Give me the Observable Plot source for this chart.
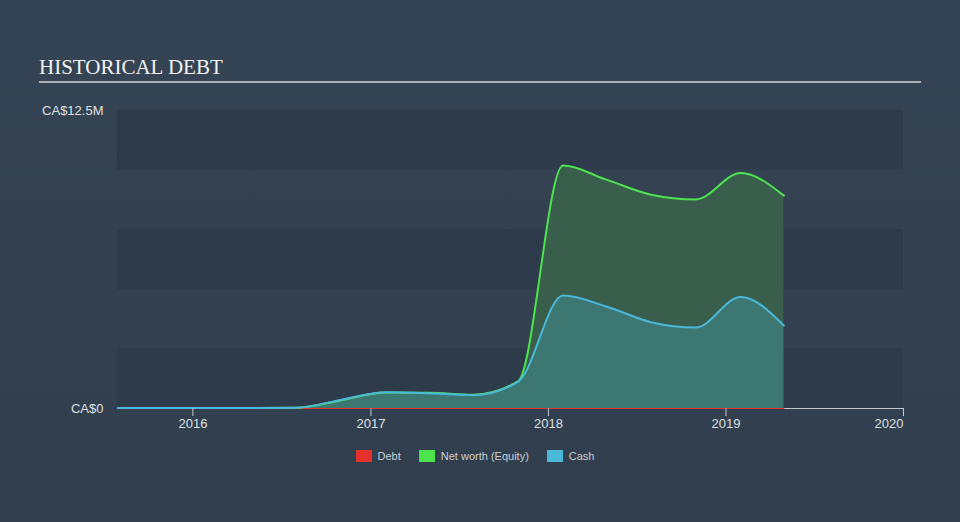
<!DOCTYPE html>
<html>
<head>
<meta charset="utf-8">
<script src="https://cdn.jsdelivr.net/npm/d3@7"></script>
<script src="https://cdn.jsdelivr.net/npm/@observablehq/plot@0.6"></script>
<style>
  html, body { margin: 0; padding: 0; }
  body { width: 960px; height: 522px; overflow: hidden;
         background: linear-gradient(180deg, #354454 0%, #313e4d 100%);
         font-family: "Liberation Sans", Arial, sans-serif; }
  #header { position: relative; height: 90px; }
  #title { position: absolute; left: 39px; top: 57px; font-family: "Liberation Serif", "Times New Roman", serif;
           font-size: 21px; line-height: 21px; color: #f2f2f2; letter-spacing: 0px; }
  #rule { position: absolute; left: 39px; top: 81px; width: 882px; height: 2px; background: #a9b0b8; }
  #legend { display: flex; justify-content: center; align-items: center; gap: 0; margin-top: 10px;
            width: 950px; font-size: 11px; color: #c9ced4; }
  .item { display: flex; align-items: center; margin: 0 9px; }
  .sw { width: 16px; height: 12px; margin-right: 6px; }
  #chart svg { display: block; }
</style>
</head>
<body>
<div id="header"><div id="title">HISTORICAL DEBT</div><div id="rule"></div></div>
<div id="chart"></div>
<div id="legend"></div>
<script>
const dates  = ["2015-07-31","2015-10-31","2016-01-31","2016-04-30","2016-07-31","2016-10-31","2017-01-31","2017-04-30","2017-07-31","2017-10-31","2018-01-31","2018-04-30","2018-07-31","2018-10-31","2019-01-31","2019-04-30"];
const debt   = [0,0,0,0,0,0,0,0,0,0,0,0,0,0,0,0];
const equity = [0.02,0.02,0.02,0.02,0.03,0.34,0.67,0.66,0.58,1.15,10.19,9.60,8.97,8.77,9.88,8.93];
const cash   = [0.02,0.02,0.02,0.02,0.03,0.36,0.68,0.64,0.56,1.13,4.74,4.28,3.62,3.40,4.68,3.48];
const yTicks = [0, 12.5];
const yTickLabels = ["CA$0", "CA$12.5M"];
const xTickYears = [2016, 2017, 2018, 2019];
const xLastYear = 2020;
const bandStarts = [0, 5, 10];
const bandSize = 2.5;
const seriesNames = ["Debt", "Net worth (Equity)", "Cash"];
const seriesColors = ["#e5312b", "#4de34e", "#4ab8d8"];

const rows = dates.map((d, i) => ({date: new Date(d), debt: debt[i], equity: equity[i], cash: cash[i]}));
const xDomain = [new Date("2015-07-30"), new Date("2020-01-01")];

const chart = Plot.plot({
  width: 960, height: 350,
  marginLeft: 117, marginRight: 57, marginTop: 20, marginBottom: 32,
  style: {background: "transparent", color: "#d6d9dd", fontFamily: "'Liberation Sans', Arial, sans-serif", fontSize: "13px"},
  x: {type: "utc", domain: xDomain, label: null},
  y: {domain: [0, 12.5], label: null},
  marks: [
    Plot.rect(bandStarts, {x1: () => xDomain[0], x2: () => xDomain[1], y1: d => d, y2: d => d + bandSize, fill: "#2e3b4b"}),
    Plot.areaY(rows, {x: "date", y: "equity", fill: "#395e4c", curve: "monotone-x"}),
    Plot.areaY(rows, {x: "date", y: "cash", fill: "#3d7772", curve: "monotone-x"}),
    Plot.ruleY([0], {stroke: "#c3c9cf", strokeWidth: 1}),
    Plot.lineY(rows, {x: "date", y: "debt", stroke: seriesColors[0], strokeWidth: 1.2}),
    Plot.lineY(rows, {x: "date", y: "equity", stroke: seriesColors[1], strokeWidth: 2, curve: "monotone-x"}),
    Plot.lineY(rows, {x: "date", y: "cash", stroke: seriesColors[2], strokeWidth: 2, curve: "monotone-x"}),
    Plot.axisY({ticks: yTicks, tickSize: 0, tickPadding: 14, tickFormat: d => yTickLabels[yTicks.indexOf(d)], label: null, fill: "#dde0e3"}),
    Plot.axisX({ticks: xTickYears.map(y => new Date(Date.UTC(y, 0, 1))), tickSize: 8, tickPadding: 2, tickFormat: "%Y", label: null, stroke: "#c3c9cf", fill: "#dde0e3"}),
    Plot.axisX({ticks: [new Date(Date.UTC(xLastYear, 0, 1))], tickSize: 8, tickPadding: 2, tickFormat: "%Y", textAnchor: "end", label: null, stroke: "#c3c9cf", fill: "#dde0e3"})
  ]
});
document.getElementById("chart").appendChild(chart);

const legend = document.getElementById("legend");
seriesNames.forEach((n, i) => {
  const it = document.createElement("div");
  it.className = "item";
  const sw = document.createElement("div");
  sw.className = "sw";
  sw.style.background = seriesColors[i];
  const t = document.createElement("span");
  t.textContent = n;
  it.appendChild(sw); it.appendChild(t);
  legend.appendChild(it);
});
</script>
</body>
</html>
